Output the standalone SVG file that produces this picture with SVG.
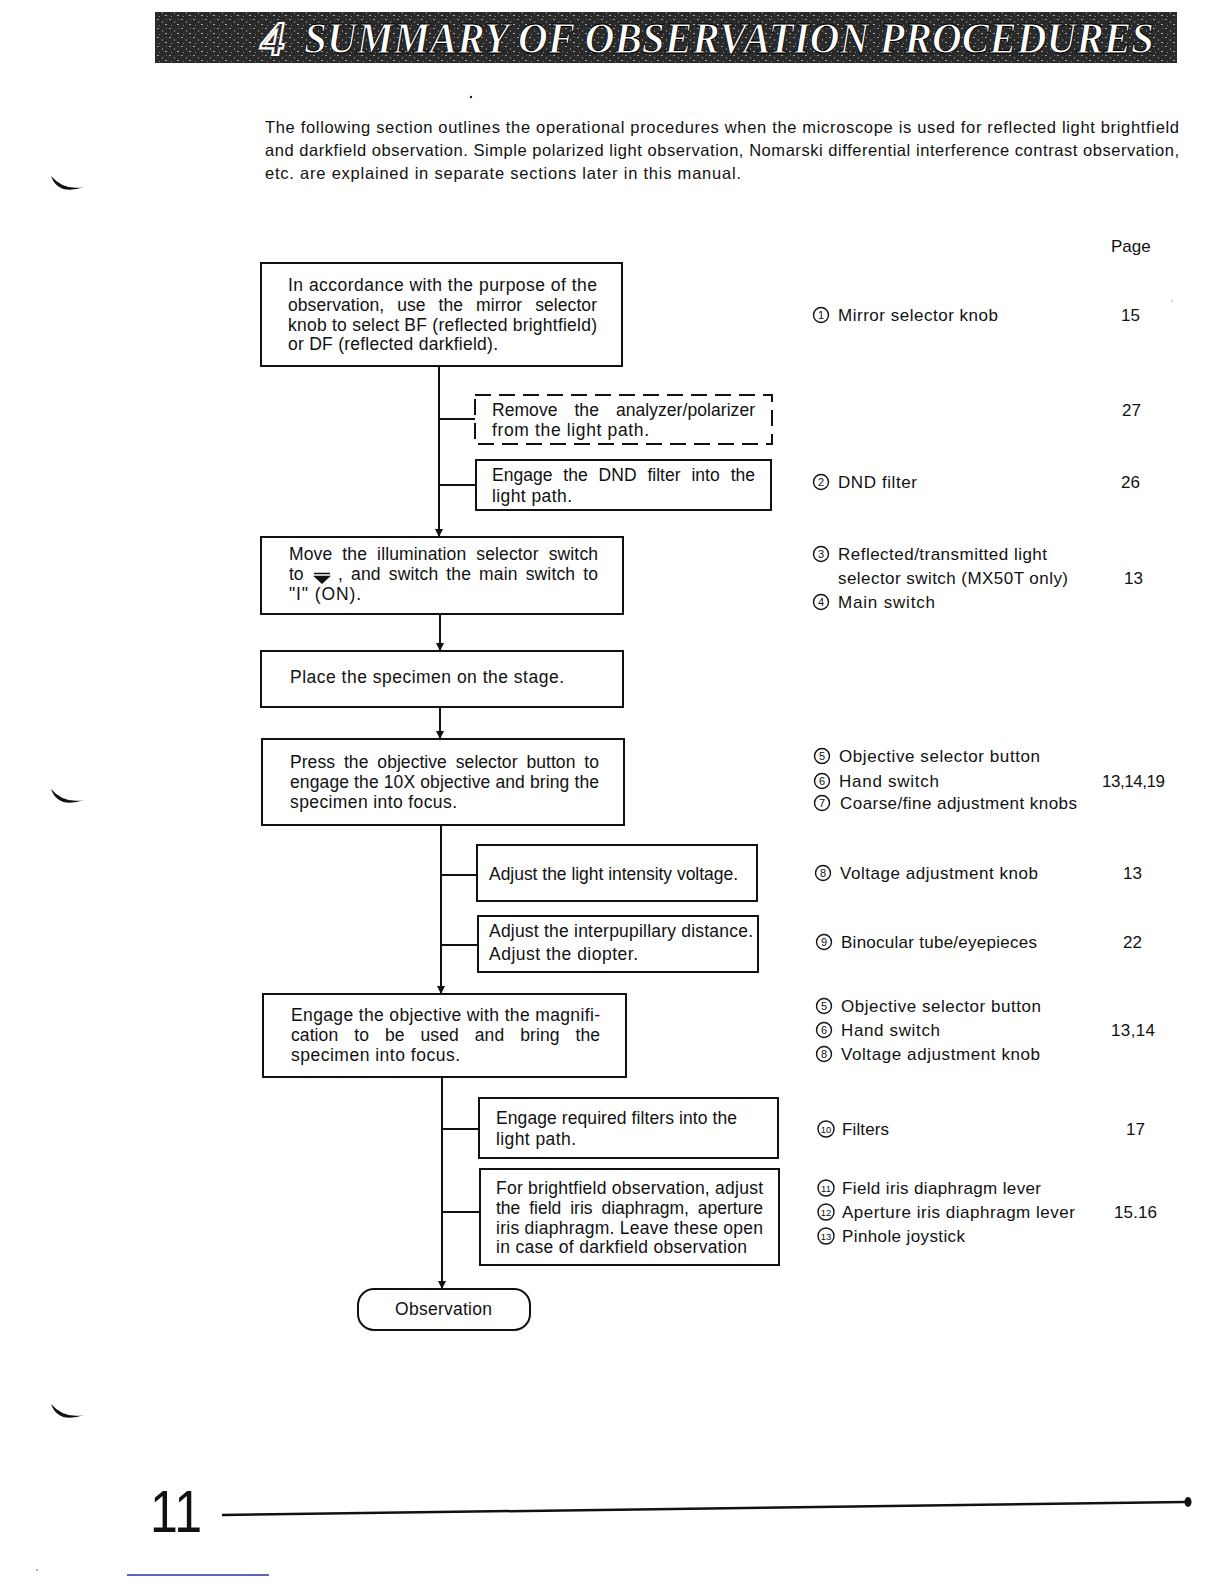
<svg xmlns="http://www.w3.org/2000/svg" width="1224" height="1584" viewBox="0 0 1224 1584">
<style>
.t{font-family:"Liberation Sans","DejaVu Sans",sans-serif;font-size:17.5px;fill:#111}
.r{font-family:"Liberation Sans","DejaVu Sans",sans-serif;font-size:17px;fill:#111}
.i{font-family:"Liberation Sans","DejaVu Sans",sans-serif;font-size:16.5px;fill:#111}
.c{fill:none;stroke:#111;stroke-width:1.4}
.cn{font-family:"Liberation Sans",sans-serif;font-size:11px;fill:#111;text-anchor:middle}
.cn2{font-family:"Liberation Sans",sans-serif;font-size:9.5px;fill:#111;text-anchor:middle}
.box{fill:#fff;stroke:#111;stroke-width:2}
.dash{fill:#fff;stroke:#111;stroke-width:2;stroke-dasharray:16 8}
.ln{stroke:#111;stroke-width:2;fill:none}
.ban{font-family:"Liberation Serif","DejaVu Serif",serif;font-style:italic;font-weight:bold}
</style>
<defs>
<marker id="ah" viewBox="0 0 10 10" refX="10" refY="5" markerWidth="8" markerHeight="10" markerUnits="userSpaceOnUse" orient="auto">
<path d="M0,0 L10,5 L0,10 Z" fill="#111"/>
</marker>
<pattern id="noise" width="12" height="9" patternUnits="userSpaceOnUse">
<rect width="12" height="9" fill="#2a2a2a"/>
<rect x="1" y="1" width="2" height="1" fill="#9a9a9a"/>
<rect x="6" y="3" width="1" height="2" fill="#7a7a7a"/>
<rect x="9" y="6" width="2" height="1" fill="#aaa"/>
<rect x="3" y="7" width="1" height="1" fill="#888"/>
<rect x="10" y="1" width="1" height="1" fill="#666"/>
</pattern>
</defs>
<rect width="1224" height="1584" fill="#fff"/>

<g id="banner">
<rect x="155" y="12" width="1022" height="51" fill="url(#noise)"/>
<text class="ban" x="261" y="55" font-size="48" fill="none" stroke="#fff" stroke-width="2.2">4</text>
<text class="ban" x="304" y="53" font-size="44" fill="#fff" stroke="#000" stroke-width="1" textLength="850" lengthAdjust="spacingAndGlyphs">SUMMARY OF OBSERVATION PROCEDURES</text>
</g>

<g id="intro">
<text class="i" x="265" y="133" textLength="914">The following section outlines the operational procedures when the microscope is used for reflected light brightfield</text>
<text class="i" x="265" y="156" textLength="914">and darkfield observation. Simple polarized light observation, Nomarski differential interference contrast observation,</text>
<text class="i" x="265" y="179" textLength="476">etc. are explained in separate sections later in this manual.</text>
<text class="r" x="1111" y="252">Page</text>
</g>

<g id="connectors">
<line class="ln" x1="439" y1="366" x2="439" y2="537" marker-end="url(#ah)"/>
<line class="ln" x1="439" y1="419" x2="475" y2="419"/>
<line class="ln" x1="439" y1="485" x2="476" y2="485"/>
<line class="ln" x1="440" y1="614" x2="440" y2="651" marker-end="url(#ah)"/>
<line class="ln" x1="440" y1="707" x2="440" y2="739" marker-end="url(#ah)"/>
<line class="ln" x1="441" y1="825" x2="441" y2="994" marker-end="url(#ah)"/>
<line class="ln" x1="441" y1="875" x2="477" y2="875"/>
<line class="ln" x1="441" y1="945" x2="478" y2="945"/>
<line class="ln" x1="442" y1="1077" x2="442" y2="1289" marker-end="url(#ah)"/>
<line class="ln" x1="442" y1="1129" x2="479" y2="1129"/>
<line class="ln" x1="442" y1="1212" x2="480" y2="1212"/>
</g>

<g id="n1">
<rect class="box" x="261" y="263" width="361" height="103"/>
<text class="t" x="288" y="291" textLength="309">In accordance with the purpose of the</text>
<text class="t" x="288" y="311" word-spacing="8" textLength="309">observation, use the mirror selector</text>
<text class="t" x="288" y="331" textLength="309">knob to select BF (reflected brightfield)</text>
<text class="t" x="288" y="350" textLength="210">or DF (reflected darkfield).</text>
</g>

<g id="n1a">
<rect class="dash" x="475" y="395" width="297" height="49"/>
<text class="t" x="492" y="416" word-spacing="12" textLength="263">Remove the analyzer/polarizer</text>
<text class="t" x="492" y="436" textLength="157">from the light path.</text>
</g>

<g id="n1b">
<rect class="box" x="476" y="460" width="295" height="50"/>
<text class="t" x="492" y="481" word-spacing="6" textLength="263">Engage the DND filter into the</text>
<text class="t" x="492" y="502" textLength="80">light path.</text>
</g>

<g id="n2">
<rect class="box" x="261" y="537" width="362" height="77"/>
<text class="t" x="289" y="560" word-spacing="5" textLength="309">Move the illumination selector switch</text>
<text class="t" x="289" y="580">to</text>
<path d="M314,573.5 L330,573.5 M315,576.5 L329,576.5 L322,583 Z" stroke="#111" stroke-width="1.5" fill="#111"/>
<text class="t" x="338" y="580" word-spacing="3" textLength="260">, and switch the main switch to</text>
<text class="t" x="289" y="600" textLength="72">"I" (ON).</text>
</g>

<g id="n3">
<rect class="box" x="261" y="651" width="362" height="56"/>
<text class="t" x="290" y="683" textLength="274">Place the specimen on the stage.</text>
</g>

<g id="n4">
<rect class="box" x="262" y="739" width="362" height="86"/>
<text class="t" x="290" y="768" word-spacing="4" textLength="309">Press the objective selector button to</text>
<text class="t" x="290" y="788" textLength="309">engage the 10X objective and bring the</text>
<text class="t" x="290" y="808" textLength="167">specimen into focus.</text>
</g>

<g id="n4a">
<rect class="box" x="477" y="845" width="280" height="56"/>
<text class="t" x="489" y="880" textLength="249">Adjust the light intensity voltage.</text>
</g>

<g id="n4b">
<rect class="box" x="478" y="916" width="280" height="56"/>
<text class="t" x="489" y="937" textLength="264">Adjust the interpupillary distance.</text>
<text class="t" x="489" y="960" textLength="149">Adjust the diopter.</text>
</g>

<g id="n5">
<rect class="box" x="263" y="994" width="363" height="83"/>
<text class="t" x="291" y="1021" textLength="309">Engage the objective with the magnifi-</text>
<text class="t" x="291" y="1041" word-spacing="11" textLength="309">cation to be used and bring the</text>
<text class="t" x="291" y="1061" textLength="169">specimen into focus.</text>
</g>

<g id="n5a">
<rect class="box" x="479" y="1098" width="299" height="60"/>
<text class="t" x="496" y="1124" textLength="241">Engage required filters into the</text>
<text class="t" x="496" y="1145" textLength="80">light path.</text>
</g>

<g id="n5b">
<rect class="box" x="480" y="1169" width="299" height="96"/>
<text class="t" x="496" y="1194" textLength="267">For brightfield observation, adjust</text>
<text class="t" x="496" y="1214" word-spacing="4" textLength="267">the field iris diaphragm, aperture</text>
<text class="t" x="496" y="1234" textLength="267">iris diaphragm. Leave these open</text>
<text class="t" x="496" y="1253" textLength="251">in case of darkfield observation</text>
</g>

<g id="n6">
<rect class="box" x="358" y="1289" width="172" height="41" rx="16" ry="16"/>
<text class="t" x="395" y="1315" textLength="97">Observation</text>
</g>

<g id="refs">
<circle class="c" cx="821" cy="315" r="7.5"/><text class="cn" x="821" y="319">1</text>
<text class="r" x="838" y="321" textLength="160">Mirror selector knob</text><text class="r" x="1121" y="321">15</text>
<text class="r" x="1122" y="416">27</text>
<circle class="c" cx="821" cy="482" r="7.5"/><text class="cn" x="821" y="486">2</text>
<text class="r" x="838" y="488" textLength="79">DND filter</text><text class="r" x="1121" y="488">26</text>
<circle class="c" cx="821" cy="554" r="7.5"/><text class="cn" x="821" y="558">3</text>
<text class="r" x="838" y="560" textLength="209">Reflected/transmitted light</text>
<text class="r" x="838" y="584" textLength="230">selector switch (MX50T only)</text><text class="r" x="1124" y="584">13</text>
<circle class="c" cx="821" cy="602" r="7.5"/><text class="cn" x="821" y="606">4</text>
<text class="r" x="838" y="608" textLength="97">Main switch</text>

<circle class="c" cx="822" cy="756" r="7.5"/><text class="cn" x="822" y="760">5</text>
<text class="r" x="839" y="762" textLength="201">Objective selector button</text>
<circle class="c" cx="822" cy="781" r="7.5"/><text class="cn" x="822" y="785">6</text>
<text class="r" x="839" y="787" textLength="100">Hand switch</text><text class="r" x="1102" y="787" textLength="63">13,14,19</text>
<circle class="c" cx="822" cy="803" r="7.5"/><text class="cn" x="822" y="807">7</text>
<text class="r" x="840" y="809" textLength="237">Coarse/fine adjustment knobs</text>
<circle class="c" cx="823" cy="873" r="7.5"/><text class="cn" x="823" y="877">8</text>
<text class="r" x="840" y="879" textLength="198">Voltage adjustment knob</text><text class="r" x="1123" y="879">13</text>
<circle class="c" cx="824" cy="942" r="7.5"/><text class="cn" x="824" y="946">9</text>
<text class="r" x="841" y="948" textLength="196">Binocular tube/eyepieces</text><text class="r" x="1123" y="948">22</text>

<circle class="c" cx="824" cy="1006" r="7.5"/><text class="cn" x="824" y="1010">5</text>
<text class="r" x="841" y="1012" textLength="200">Objective selector button</text>
<circle class="c" cx="824" cy="1030" r="7.5"/><text class="cn" x="824" y="1034">6</text>
<text class="r" x="841" y="1036" textLength="99">Hand switch</text><text class="r" x="1111" y="1036" textLength="44">13,14</text>
<circle class="c" cx="824" cy="1054" r="7.5"/><text class="cn" x="824" y="1058">8</text>
<text class="r" x="841" y="1060" textLength="199">Voltage adjustment knob</text>

<circle class="c" cx="826" cy="1129" r="8"/><text class="cn2" x="826" y="1132.5">10</text>
<text class="r" x="842" y="1135" textLength="47">Filters</text><text class="r" x="1126" y="1135">17</text>
<circle class="c" cx="826" cy="1188" r="8"/><text class="cn2" x="826" y="1191.5">11</text>
<text class="r" x="842" y="1194" textLength="199">Field iris diaphragm lever</text>
<circle class="c" cx="826" cy="1212" r="8"/><text class="cn2" x="826" y="1215.5">12</text>
<text class="r" x="842" y="1218" textLength="233">Aperture iris diaphragm lever</text><text class="r" x="1114" y="1218" textLength="43">15.16</text>
<circle class="c" cx="826" cy="1236" r="8"/><text class="cn2" x="826" y="1239.5">13</text>
<text class="r" x="842" y="1242" textLength="123">Pinhole joystick</text>
</g>

<g id="footer">
<text x="150" y="1532" font-family="Liberation Sans, sans-serif" font-size="59" fill="#111" textLength="52" lengthAdjust="spacingAndGlyphs">11</text>
<line x1="222" y1="1515" x2="1185" y2="1502" stroke="#111" stroke-width="2.5"/>
<ellipse cx="1188" cy="1502" rx="3.5" ry="5" fill="#111"/>
<line x1="127" y1="1575" x2="269" y2="1575" stroke="#2233aa" stroke-width="1.5"/>
<circle cx="37" cy="1570" r="0.8" fill="#444"/>
</g>

<g id="marks">
<circle cx="471" cy="97" r="1.2" fill="#222"/>
<circle cx="1172" cy="301" r="0.7" fill="#888"/>
<path d="M51,176 Q58,196 84,187 Q64,191 51,176 Z" fill="#111"/>
<path d="M51,789 Q58,809 84,800 Q64,804 51,789 Z" fill="#111"/>
<path d="M51,1404 Q58,1424 84,1415 Q64,1419 51,1404 Z" fill="#111"/>
</g>
</svg>
